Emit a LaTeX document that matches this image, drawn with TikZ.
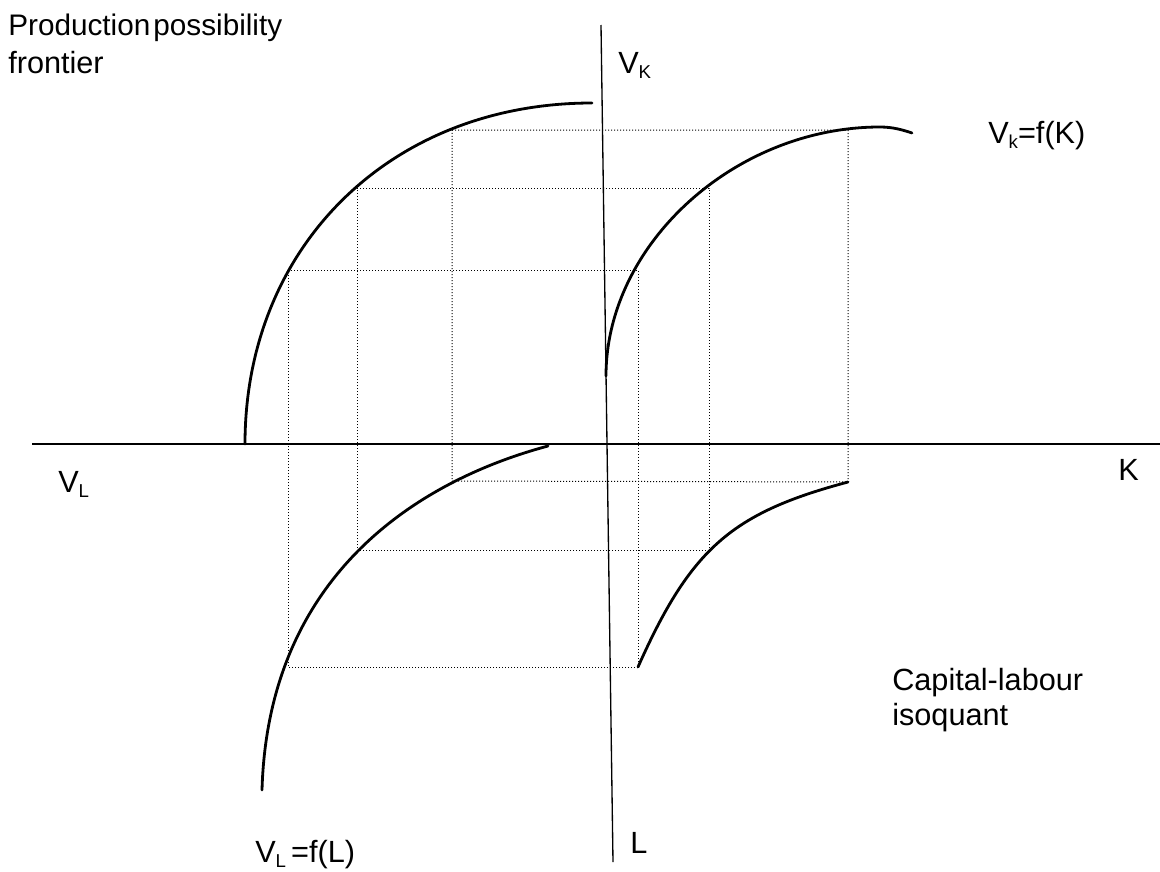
\documentclass[tikz,border=0pt]{standalone}
\usepackage{fontspec}
\setmainfont{Liberation Sans}
\newcommand\lowsub[1]{\raisebox{-3.8pt}{\fontsize{14}{14}\selectfont #1}}
\begin{document}
\begin{tikzpicture}[x=0.75pt, y=-0.75pt,
    curve/.style={line width=2.1pt, line cap=round},
    guide/.style={line width=0.75pt, dash pattern=on 0.75pt off 1.5pt},
    lbl/.style={font=\fontsize{23}{28}\selectfont, inner sep=0pt, anchor=base west}]
    \useasboundingbox (0,0) rectangle (1160,871);
    % 軸
    \coordinate (hleft) at (32,444);
    \coordinate (hright) at (1160,444);
    \coordinate (vtop) at (601,25);
    \coordinate (vbot) at (613,862);
    \draw[line width=1.5pt] (hleft) -- (hright);
    \draw[line width=1pt] (vtop) -- (vbot);
    % 曲線上の点
    \coordinate (ppf1) at (288,270);
    \coordinate (ppf2) at (357,188);
    \coordinate (ppf3) at (452,130);
    \coordinate (vk1) at (638,270);
    \coordinate (vk2) at (709,188);
    \coordinate (vk3) at (848,130);
    \coordinate (vl1) at (288,667);
    \coordinate (vl2) at (357,550);
    \coordinate (vl3) at (452,481);
    \coordinate (iq1) at (638,667);
    \coordinate (iq2) at (709,550);
    \coordinate (iq3) at (848,482);
    % 生産可能性フロンティア
    \draw[curve] (245,444) .. controls (245,246) and (391,103) .. (592,103);
    % Vk=f(K)
    \draw[curve] (606,376) .. controls (606,244) and (735,127) .. (880,127)
      .. controls (893,127) and (903,130) .. (912,133);
    % VL=f(L)
    \draw[curve] (262,790) .. controls (268,578) and (414,482) .. (548,446);
    % 等量曲線
    \draw[curve] (iq1) .. controls (691,548) and (732,513) .. (iq3);
    % 補助線
    \foreach \i in {1,2,3} {
      \draw[guide] (ppf\i) -- (vk\i) -- (iq\i) -- (vl\i) -- cycle;
    }
    % ラベル
    \node[lbl, font=\fontsize{22.3}{28}\selectfont] (ppf) at (8,35) {Production\hspace{0.1em}possibility};
    \node[lbl] (ppfb) at (8,73) {frontier};
    \node[lbl] (vk) at (618,73) {V\lowsub{K}};
    \node[lbl] (vkf) at (988,143) {V\lowsub{k}=f(K)};
    \node[lbl] (vl) at (58,492) {V\lowsub{L}};
    \node[lbl] (k) at (1118,480) {K};
    \node[lbl] (cl) at (892,690) {Capital-labour};
    \node[lbl] (cla) at (892,725) {isoquant};
    \node[lbl] (vlf) at (255,862) {V\lowsub{L}\,=f(L)};
    \node[lbl] (l) at (630,853) {L};
\end{tikzpicture}
\end{document}
